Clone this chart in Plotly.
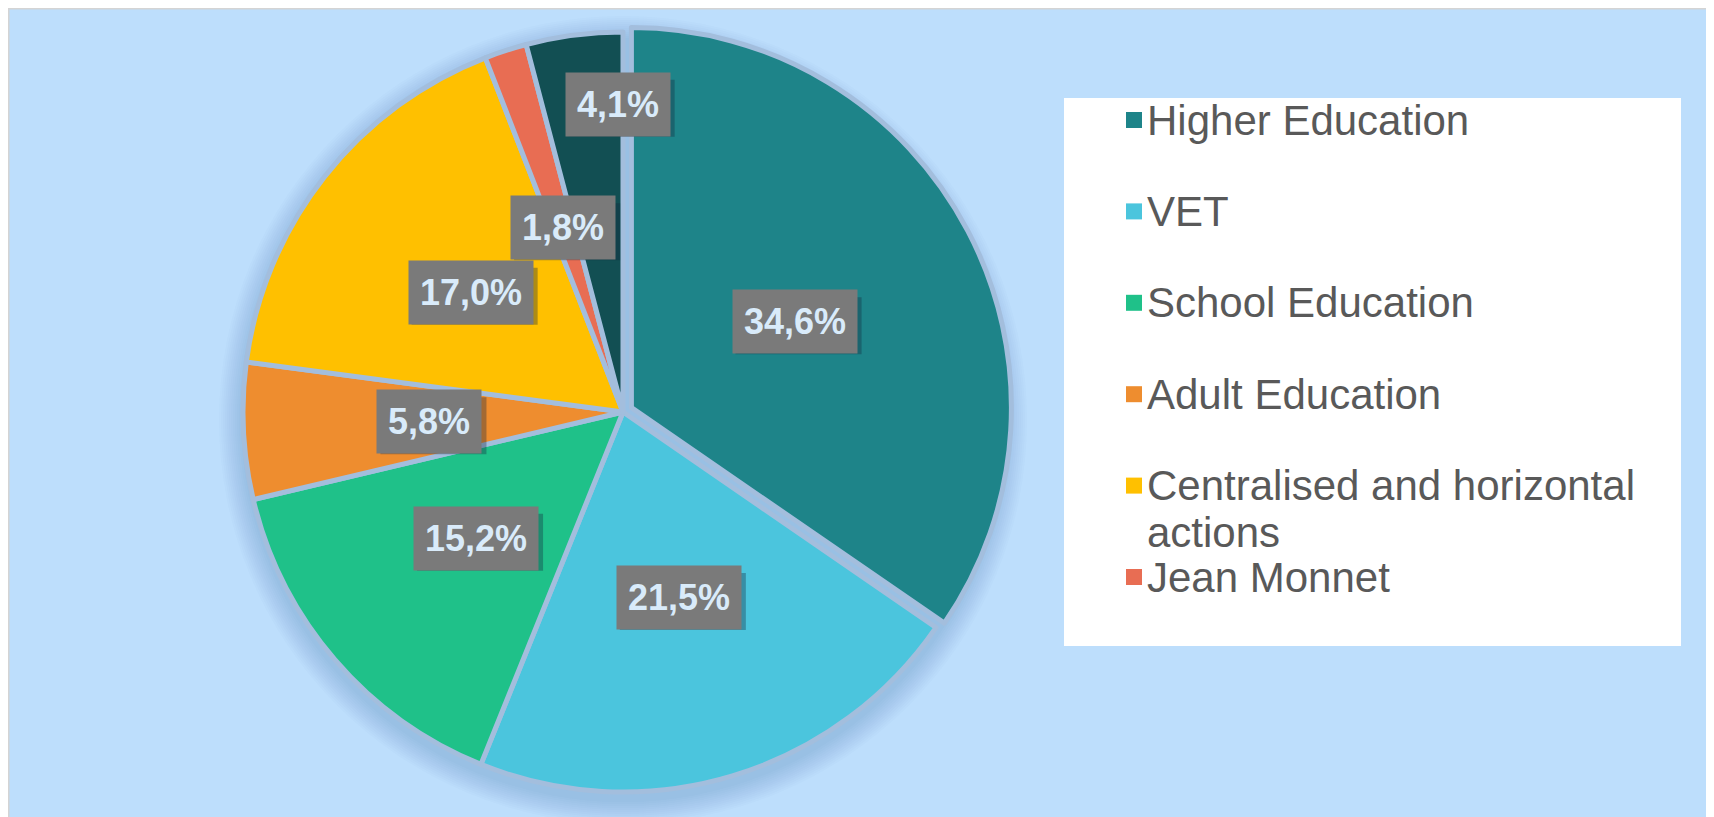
import math
import plotly.graph_objects as go

# ---------------- data ----------------
categories = ["Higher Education", "VET", "School Education", "Adult Education",
              "Centralised and horizontal actions", "Jean Monnet", "Other"]
shares = [34.6, 21.5, 15.2, 5.8, 17.0, 1.8, 4.1]
colors = ["#1E8489", "#4BC5DD", "#1FC189", "#EE8D2F", "#FFC000", "#E86D53", "#124F53"]
legend_count = 6  # the reference legend box shows only the first six entries

# ---------------- layout constants ----------------
W, H = 1714, 817
OFF = 8  # page body margin: coordinates below are measured on the page
BG = "#BDDEFC"
GAP = "#A3BEDD"
CX, CY, R = 623, 412, 380
PULL = [0.025, 0, 0, 0, 0, 0, 0]
LABEL_SIZE = 36
LABEL_PAD = 11
# approximate Liberation Sans Bold advance widths (em) for label characters
CHAR_W = {",": 0.278, "%": 0.889}


def px(x):
    return (x - OFF) / W


def py(y):
    return 1 - (y - OFF) / H


half = R * (1 + max(PULL))
fig = go.Figure()
fig.add_trace(go.Pie(
    labels=categories, values=shares, sort=False, direction="clockwise", rotation=0,
    marker=dict(colors=colors, line=dict(color=GAP, width=5)),
    pull=PULL, textinfo="none", showlegend=False,
    domain=dict(x=[px(CX - half), px(CX + half)], y=[py(CY + half), py(CY - half)]),
))

shapes = []
# soft shadow behind the pie
for k in range(12):
    rr = R + 2 + k * 2
    shapes.append(dict(type="circle", xref="paper", yref="paper", layer="below",
                       x0=px(CX - rr), x1=px(CX + rr), y0=py(CY + 8 + rr), y1=py(CY + 8 - rr),
                       fillcolor="rgba(60,100,150,0.02)", line=dict(width=0)))
# grey frame on the top and left edges
shapes.append(dict(type="line", xref="paper", yref="paper", x0=0, x1=0, y0=0, y1=1,
                   line=dict(color="#D4D4D4", width=3)))
shapes.append(dict(type="line", xref="paper", yref="paper", x0=0, x1=1, y0=1, y1=1,
                   line=dict(color="#D4D4D4", width=3)))
# legend box
LX0, LX1, LY0, LY1 = 1064, 1681, 98, 646
shapes.append(dict(type="rect", xref="paper", yref="paper", x0=px(LX0), x1=px(LX1),
                   y0=py(LY1), y1=py(LY0), fillcolor="white", line=dict(width=0)))

annotations = []
# percentage labels, placed along each slice's mid angle
total = sum(shares)
cum = 0.0
for i, v in enumerate(shares):
    mid = (cum + v / 2) / total * 360
    cum += v
    rf = 0.51
    if i == len(shares) - 1:  # small last slice: label moved outward as in the reference
        rf, mid = 0.81, 359
    a = math.radians(mid)
    lx = CX + rf * R * math.sin(a)
    ly = CY - rf * R * math.cos(a)
    txt = f"{v:.1f}".replace(".", ",") + "%"
    # drop shadow of the label box
    bw = sum(CHAR_W.get(c, 0.556) for c in txt) * LABEL_SIZE + 2 * LABEL_PAD + 2
    bh = 57
    shapes.append(dict(type="rect", xref="paper", yref="paper", layer="above",
                       x0=px(lx - bw / 2 + 4), x1=px(lx + bw / 2 + 4),
                       y0=py(ly + bh / 2 + 4), y1=py(ly - bh / 2 + 4),
                       fillcolor="rgba(20,40,60,0.35)", line=dict(width=0)))
    annotations.append(dict(
        x=px(lx), y=py(ly), xref="paper", yref="paper", showarrow=False,
        xanchor="center", yanchor="middle",
        text=f"<b>{txt}</b>",
        font=dict(family="Liberation Sans, Arial", size=LABEL_SIZE, color="#D9EBFA"),
        bgcolor="#7A7A7A", borderpad=LABEL_PAD,
    ))

# legend entries
for i in range(legend_count):
    yc = 120 + i * 91.4
    shapes.append(dict(type="rect", xref="paper", yref="paper",
                       x0=px(1126), x1=px(1142), y0=py(yc + 8), y1=py(yc - 8),
                       fillcolor=colors[i], line=dict(width=0)))
    name = categories[i]
    lines = [name] if len(name) < 28 else [name.rsplit(" ", 1)[0], name.rsplit(" ", 1)[1]]
    for j, ln in enumerate(lines):
        annotations.append(dict(
            x=px(1145), y=py(yc + j * 47), xref="paper", yref="paper", showarrow=False,
            xanchor="left", yanchor="middle", text=ln,
            font=dict(family="Liberation Sans, Arial", size=42, color="#595959"),
        ))

fig.update_layout(
    width=W, height=H, margin=dict(l=0, r=0, t=0, b=0),
    paper_bgcolor=BG, plot_bgcolor=BG,
    shapes=shapes, annotations=annotations, showlegend=False,
)
fig.write_html("out.html")
